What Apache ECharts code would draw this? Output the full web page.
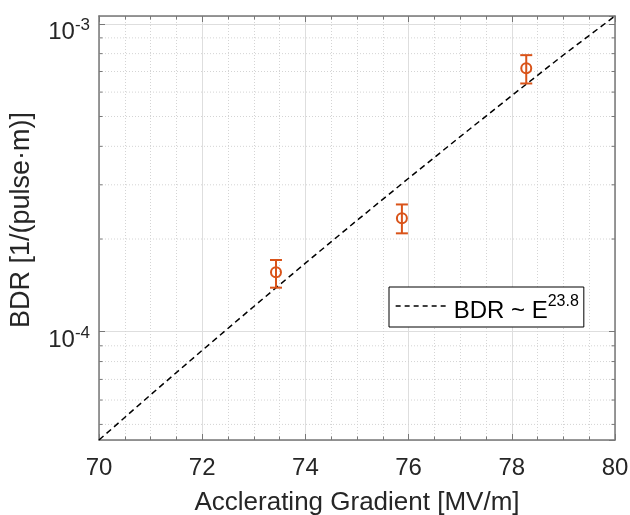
<!DOCTYPE html>
<html><head><meta charset="utf-8">
<script src="https://cdn.jsdelivr.net/npm/echarts@6/dist/echarts.min.js"></script>
<style>html,body{margin:0;padding:0;background:#fff}#c{width:630px;height:515px}</style>
</head><body><div id="c"></div>
<script>
// ---- data ----
const xTicks = [70, 72, 74, 76, 78, 80];
const yMajorTicks = [1e-4, 1e-3];
const yMinorTicks = [5e-5, 6e-5, 7e-5, 8e-5, 9e-5, 2e-4, 3e-4, 4e-4, 5e-4, 6e-4, 7e-4, 8e-4, 9e-4];
const gradient = [73.43, 75.87, 78.28];
const bdr = [1.56e-4, 2.335e-4, 7.17e-4];
const bdrLow = [1.39e-4, 2.087e-4, 6.40e-4];
const bdrHigh = [1.71e-4, 2.59e-4, 7.91e-4];
const fitE = [70, 71, 72, 73, 74, 75, 76, 77, 78, 79, 80];
const fitBDR = [4.45e-5, 6.24e-5, 8.70e-5, 1.208e-4, 1.670e-4, 2.299e-4, 3.151e-4, 4.300e-4, 5.846e-4, 7.918e-4, 1.06e-3];
const yMin = 4.45e-5, yMax = 1.06e-3;

const FONT = '"Liberation Sans", Arial, sans-serif';
const TXT = '#262626';
const AXC = '#777777';
const ORANGE = '#D95319';

const chart = echarts.init(document.getElementById('c'), null, {renderer: 'canvas'});

function powLabel(v) {
  const e = Math.round(Math.log10(v));
  return '{b|10}{s|' + e + '}';
}

const option = {
  animation: false,
  backgroundColor: '#fff',
  textStyle: {fontFamily: FONT},
  grid: {left: 99, right: 15, top: 16, bottom: 75, containLabel: false, outerBoundsMode: 'none'},
  legend: {
    data: ['fit'],
    left: 389, top: 287,
    backgroundColor: '#fff', borderColor: '#000', borderWidth: 1, borderRadius: 0,
    padding: [2, 5, 4, 6],
    itemWidth: 53, itemHeight: 14, itemGap: 0,
    itemStyle: {opacity: 0},
    lineStyle: {color: '#000', width: 1.3, type: [5, 4]},
    formatter: function () { return '{a|BDR ~ E}{s|23.8}'; },
    textStyle: {
      fontFamily: FONT,
      rich: {
        a: {fontSize: 24, color: '#000', fontFamily: FONT, lineHeight: 24, padding: [10, 0, 0, 0]},
        s: {fontSize: 16, color: '#000', fontFamily: FONT, lineHeight: 16, verticalAlign: 'top'}
      }
    }
  },
  xAxis: [{
    type: 'value', min: 70, max: 80, interval: 2,
    name: 'Acclerating Gradient [MV/m]', nameLocation: 'middle', nameGap: 50,
    nameTextStyle: {fontSize: 26, color: TXT, fontFamily: FONT},
    axisLine: {show: true, lineStyle: {color: AXC, width: 1.5}},
    axisTick: {show: true, inside: true, length: 6, lineStyle: {color: AXC, width: 1}},
    minorTick: {show: true, splitNumber: 4, length: 3.5, lineStyle: {color: AXC, width: 1}},
    axisLabel: {fontSize: 24, color: TXT, margin: 16, fontFamily: FONT},
    splitLine: {show: true, lineStyle: {color: '#dedede', width: 1}},
    minorSplitLine: {show: true, lineStyle: {color: '#d4d4d4', width: 1, type: [1, 2]}}
  }, {
    type: 'value', min: 70, max: 80, interval: 2, position: 'top',
    axisLine: {show: true, lineStyle: {color: AXC, width: 1.5}},
    axisTick: {show: true, inside: true, length: 6, lineStyle: {color: AXC, width: 1}},
    minorTick: {show: true, splitNumber: 4, length: 3.5, lineStyle: {color: AXC, width: 1}},
    axisLabel: {show: false},
    splitLine: {show: false}
  }],
  yAxis: [{
    type: 'log', logBase: 10, min: yMin, max: yMax,
    name: 'BDR [1/(pulse·m)]', nameLocation: 'middle', nameGap: 64,
    nameTextStyle: {fontSize: 27, color: TXT, fontFamily: FONT, padding: [0, 0, 0, 16]},
    axisLine: {show: true, lineStyle: {color: AXC, width: 1.5}},
    axisTick: {show: true, inside: true, length: 6, lineStyle: {color: AXC, width: 1}},
    axisLabel: {
      showMinLabel: false, showMaxLabel: false, margin: 9,
      formatter: powLabel, padding: [10, 0, 0, 0],
      rich: {
        b: {fontSize: 24, color: TXT, fontFamily: FONT, lineHeight: 24, padding: [7, 0, 0, 0]},
        s: {fontSize: 17, color: TXT, fontFamily: FONT, lineHeight: 17, verticalAlign: 'top'}
      }
    },
    splitLine: {show: true, lineStyle: {color: '#dedede', width: 1}}
  }, {
    type: 'log', logBase: 10, min: yMin, max: yMax, position: 'right',
    axisLine: {show: true, lineStyle: {color: AXC, width: 1.5}},
    axisTick: {show: true, inside: true, length: 6, lineStyle: {color: AXC, width: 1}},
    axisLabel: {show: false},
    splitLine: {show: false}
  }],
  series: [{
    // minor log grid lines and minor ticks on both y edges
    type: 'custom', silent: true, z: 1,
    xAxisIndex: 0, yAxisIndex: 0,
    data: yMinorTicks.map(v => [75, v]),
    renderItem: function (params, api) {
      const y = api.coord([75, api.value(1)])[1];
      const cs = params.coordSys;
      const x0 = cs.x, x1 = cs.x + cs.width;
      const st = {stroke: AXC, lineWidth: 1};
      return {type: 'group', children: [
        {type: 'line', shape: {x1: x0, y1: y, x2: x1, y2: y}, style: {stroke: '#d4d4d4', lineWidth: 1, lineDash: [1, 2]}},
        {type: 'line', shape: {x1: x0, y1: y, x2: x0 + 3.5, y2: y}, style: st},
        {type: 'line', shape: {x1: x1 - 3.5, y1: y, x2: x1, y2: y}, style: st}
      ]};
    }
  }, {
    name: 'fit', type: 'line', z: 3,
    xAxisIndex: 0, yAxisIndex: 0,
    data: fitE.map((x, i) => [x, fitBDR[i]]),
    symbol: 'none',
    lineStyle: {color: '#000', width: 1.5, type: [6, 4]},
    itemStyle: {color: '#000'}
  }, {
    type: 'custom', z: 4,
    xAxisIndex: 0, yAxisIndex: 0,
    data: gradient.map((x, i) => [x, bdr[i], bdrLow[i], bdrHigh[i]]),
    renderItem: function (params, api) {
      const x = api.value(0);
      const p = api.coord([x, api.value(1)]);
      const lo = api.coord([x, api.value(2)]);
      const hi = api.coord([x, api.value(3)]);
      const st = {stroke: ORANGE, lineWidth: 2, fill: null};
      const cw = 6;
      return {type: 'group', children: [
        {type: 'line', shape: {x1: lo[0], y1: lo[1], x2: hi[0], y2: hi[1]}, style: st},
        {type: 'line', shape: {x1: lo[0] - cw, y1: lo[1], x2: lo[0] + cw, y2: lo[1]}, style: st},
        {type: 'line', shape: {x1: hi[0] - cw, y1: hi[1], x2: hi[0] + cw, y2: hi[1]}, style: st},
        {type: 'circle', shape: {cx: p[0], cy: p[1], r: 5}, style: {stroke: ORANGE, lineWidth: 2, fill: 'none'}}
      ]};
    }
  }]
};
chart.setOption(option);
</script>
</body></html>
